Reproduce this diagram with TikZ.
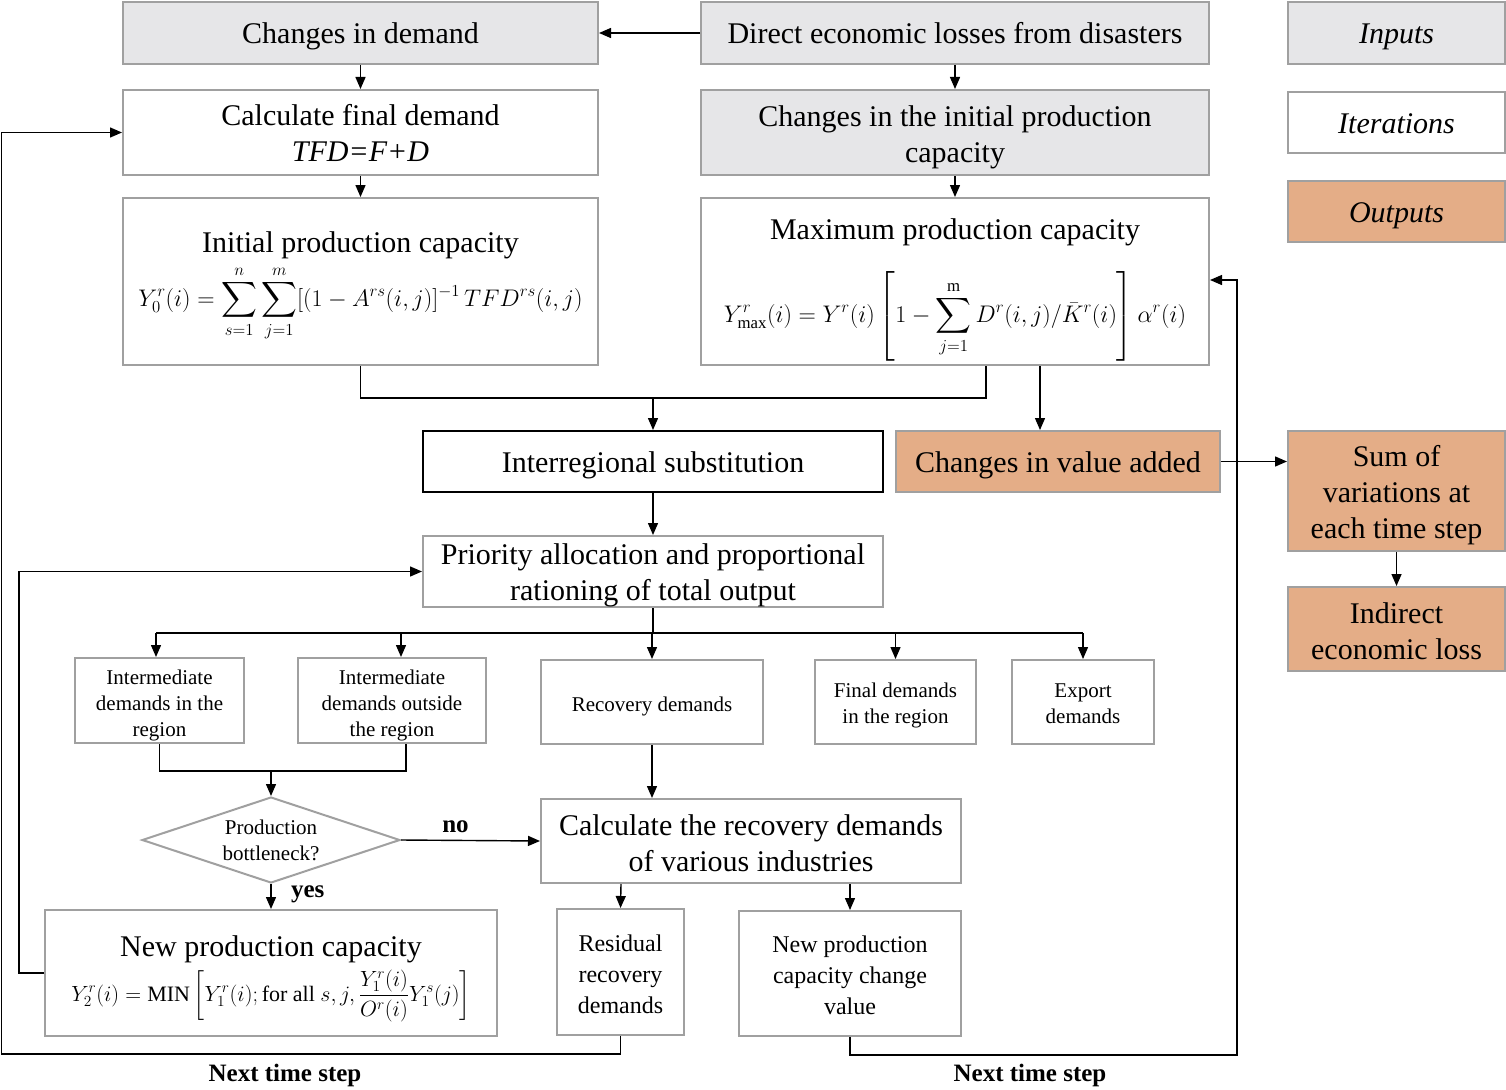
\RequirePackage{fix-cm}
\documentclass[tikz,border=0pt]{standalone}
\usepackage{amsmath}
\usepackage{fontspec}
\setmainfont{Liberation Serif}
\usetikzlibrary{arrows.meta,shapes.geometric}
\definecolor{ingray}{HTML}{E6E6E8}
\definecolor{outor}{HTML}{E4AD87}
\definecolor{bord}{HTML}{A0A0A0}
\newcommand\tup[1]{\rule{0pt}{#1}}
\begin{document}
\begin{tikzpicture}[x=1pt,y=-1pt,
  bx/.style={draw=bord, line width=2pt, align=center, inner sep=2pt, font=\fontsize{30}{36}\selectfont},
  one/.style={bx, execute at begin node={\rule[-7pt]{0pt}{36pt}}},
  gfill/.style={fill=ingray},
  ofill/.style={fill=outor},
  sbox/.style={bx, font=\fontsize{21}{26}\selectfont},
  mbox/.style={bx, font=\fontsize{24}{31}\selectfont},
  arr/.style={line width=1.4pt, -{Triangle[length=12pt,width=10pt]}},
  ln/.style={line width=1.2pt},
  lbl/.style={font=\bfseries\fontsize{25}{30}\selectfont}
]
\useasboundingbox (0,0) rectangle (1506,1089);
\fill[white] (0,0) rectangle (1506,1089);

% top row
\node[one, gfill, minimum width=475, minimum height=62] (demand) at (360.5,33) {Changes in demand};
\node[one, gfill, minimum width=508, minimum height=62] (direct) at (955,33) {Direct economic losses from disasters};
\node[one, gfill, minimum width=217, minimum height=62] (inputs) at (1396.5,33) {\itshape Inputs};

\node[bx, minimum width=475, minimum height=85] (calcfd) at (360.5,132.5) {Calculate final demand\\ \itshape TFD=F+D};
\node[bx, gfill, minimum width=508, minimum height=85] (chinit) at (955,132.5) {\tup{30pt}Changes in the initial production\\ capacity};
\node[one, minimum width=217, minimum height=61] (iter) at (1396.5,122.5) {\itshape Iterations};
\node[one, ofill, minimum width=217, minimum height=61] (outputs) at (1396.5,211.5) {\itshape Outputs};

\node[bx, minimum width=475, minimum height=167] (initcap) at (360.5,281.5)
  {\tup{30pt}Initial production capacity\\[6pt]
   \fontsize{24}{28}\selectfont $\displaystyle Y_0^r(i)=\sum_{s=1}^{n}\sum_{j=1}^{m}[(1-A^{rs}(i,j)]^{-1}\,TFD^{rs}(i,j)$};
\node[bx, minimum width=508, minimum height=167] (maxcap) at (955,281.5)
  {\tup{38pt}Maximum production capacity\\[24pt]
   \fontsize{24}{28}\selectfont $\displaystyle Y^r_{\max}(i)=Y^r(i)\left[1-\sum_{j=1}^{\mathrm{m}}D^r(i,j)/\bar{K}^r(i)\right]\alpha^r(i)$};

\node[one, draw=black, minimum width=460, minimum height=61] (inter) at (653,461.5) {Interregional substitution};
\node[one, ofill, minimum width=324, minimum height=61] (cva) at (1058,461.5) {Changes in value added};
\node[bx, ofill, minimum width=217, minimum height=120] (sum) at (1396.5,491) {\tup{28.5pt}Sum of\\ variations at\\ each time step};
\node[bx, ofill, minimum width=217, minimum height=84] (indirect) at (1396.5,629) {\tup{24.5pt}Indirect\\ economic loss};

\node[bx, inner sep=0pt, minimum width=460, minimum height=71] (prio) at (653,571.5) {\tup{28pt}Priority allocation and proportional\\ rationing of total output};

\node[sbox, minimum width=169, minimum height=85] (idin) at (159.5,700.5) {\tup{24pt}Intermediate\\ demands in the\\ region};
\node[sbox, minimum width=188, minimum height=85] (idout) at (392,700.5) {\tup{24pt}Intermediate\\ demands outside\\ the region};
\node[sbox, minimum width=222, minimum height=84] (recd) at (652,702) {\tup{23pt}Recovery demands};
\node[sbox, minimum width=161, minimum height=84] (fdr) at (895.5,702) {\tup{22pt}Final demands\\ in the region};
\node[sbox, minimum width=142, minimum height=84] (exp) at (1083,702) {\tup{18pt}Export\\ demands};

\node[diamond, draw=bord, line width=2pt, minimum width=258, minimum height=86, inner sep=0pt,
  label={[font=\fontsize{21}{26}\selectfont, align=center]center:Production\\ bottleneck?}] (dia) at (271,840) {};

\node[bx, minimum width=420, minimum height=84] (calcrec) at (751,841) {\tup{24.5pt}Calculate the recovery demands\\ of various industries};

\node[bx, minimum width=452, minimum height=126] (newcap) at (271,973)
  {\tup{32pt}New production capacity\\[6pt]
   \fontsize{22}{26}\selectfont $\displaystyle Y_2^r(i)=\mathrm{MIN}\left[Y_1^r(i);\mathrm{for\ all}\ s,j,\frac{Y_1^r(i)}{O^r(i)}Y_1^s(j)\right]$};
\node[mbox, minimum width=127, minimum height=126] (resid) at (620.5,972) {\tup{20.5pt}Residual\\ recovery\\ demands};
\node[mbox, minimum width=222, minimum height=125] (newchg) at (850,973.5) {\tup{20.5pt}New production\\ capacity change\\ value};

% connectors
\draw[arr] (direct.west) -- (demand.east);
\draw[arr] (demand.south) -- (calcfd.north);
\draw[arr] (direct.south) -- (chinit.north);
\draw[arr] (calcfd.south) -- (initcap.north);
\draw[arr] (chinit.south) -- (maxcap.north);

\coordinate (mxa) at ([xshift=31pt]maxcap.south);
\coordinate (mxb) at ([xshift=85pt]maxcap.south);
\draw[ln] (initcap.south) -- ++(0,32) coordinate (m2) -- (m2 -| mxa) -- (mxa);
\draw[arr] (m2 -| inter.north) -- (inter.north);
\draw[arr] (mxb) -- (mxb |- cva.north);
\draw[arr] (cva.east) -- (sum.west |- cva.east);
\draw[arr] (sum.south) -- (indirect.north);

\draw[arr] (inter.south) -- (prio.north);
\draw[ln] (prio.south) -- ++(0,25) coordinate (split);
\coordinate (sa) at ([xshift=-3.5pt]idin.north);
\coordinate (sb) at ([xshift=9pt]idout.north);
\draw[ln] (split -| sa) -- (split -| exp.north);
\foreach \n in {sa,sb} \draw[arr] (split -| \n) -- (\n);
\foreach \n in {recd,fdr,exp} \draw[arr] (split -| \n.north) -- (\n.north);

\coordinate (ma) at ([xshift=14pt]idout.south);
\draw[ln] (idin.south) -- ++(0,27) coordinate (m1) -- (m1 -| ma) -- (ma);
\draw[arr] (m1 -| dia.north) -- (dia.north);
\draw[arr] (recd.south) -- (recd.south |- calcrec.north);

\draw[arr] (dia.east) -- node[lbl, above, xshift=-15pt, yshift=4pt] {no} (calcrec.west);
\draw[arr] (dia.south) -- node[lbl, right, xshift=16pt, yshift=2pt] {yes} (newcap.north);

\coordinate (rsa) at ([xshift=-130pt]calcrec.south);
\draw[arr] (rsa) -- (resid.north);
\draw[arr] (newchg.north |- calcrec.south) -- (newchg.north);

% feedback loops
\coordinate (mxe) at ([yshift=1.5pt]maxcap.east);
\draw[arr] (newcap.west) -- ++(-25,0) |- (prio.west);
\draw[arr] (resid.south) -- ++(0,18) -- ++(-619,0) |- (calcfd.west);
\draw[arr] (newchg.south) -- ++(0,18) -- ++(387,0) |- (mxe);

\node[lbl] (nts1) at (285,1075) {Next time step};
\node[lbl] (nts2) at (1030,1075) {Next time step};
\end{tikzpicture}
\end{document}
